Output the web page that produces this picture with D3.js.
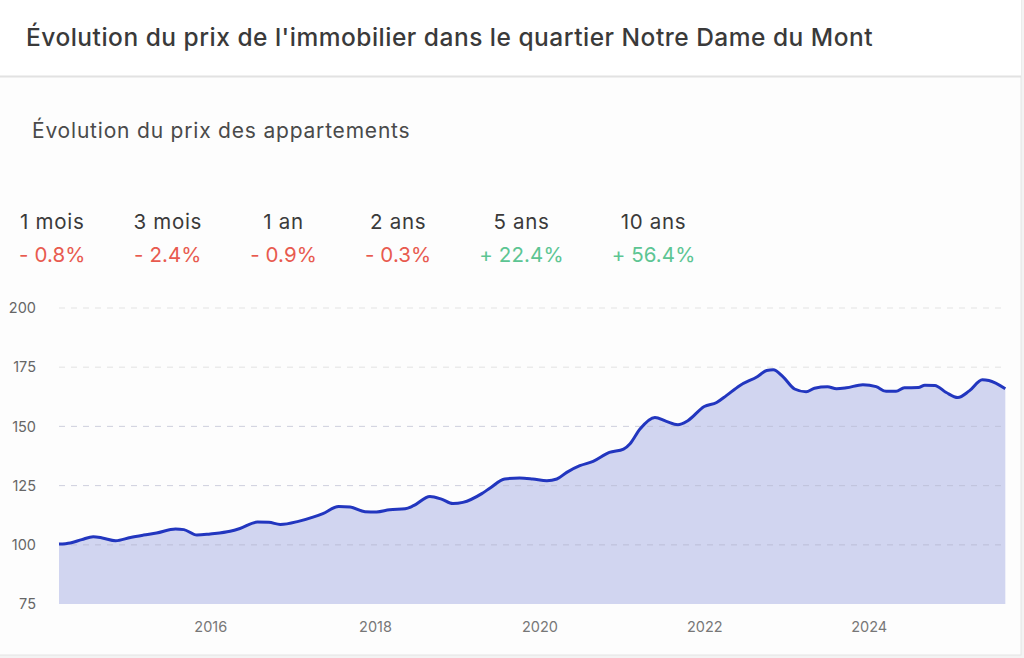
<!DOCTYPE html>
<html>
<head>
<meta charset="utf-8">
<script src="https://cdn.jsdelivr.net/npm/d3@7"></script>
<style>
  body { margin: 0; background: #f3f3f3; font-family: Inter, "Open Sans", sans-serif; }
  svg { display: block; }
</style>
</head>
<body>
<div id="chart"></div>
<script>
// header texts
const title = "Évolution du prix de l'immobilier dans le quartier Notre Dame du Mont";
const subtitle = "Évolution du prix des appartements";

// variation summary
const periods = ["1 mois", "3 mois", "1 an", "2 ans", "5 ans", "10 ans"];
const changes = [-0.8, -2.4, -0.9, -0.3, 22.4, 56.4];

// price index (base 100)
const dates = [
  "2014-03-01", "2014-04-20", "2014-06-10", "2014-07-31", "2014-09-09", "2014-11-07",
  "2015-01-12", "2015-03-11", "2015-05-08", "2015-07-31", "2015-09-06", "2015-11-03",
  "2016-01-01", "2016-03-29", "2016-05-12", "2016-07-28", "2016-09-17", "2016-11-07",
  "2017-01-26", "2017-04-01", "2017-05-15", "2017-07-24", "2017-09-13", "2017-11-18",
  "2018-01-08", "2018-03-07", "2018-05-15", "2018-06-21", "2018-09-02", "2018-10-23", "2018-12-13",
  "2019-01-26", "2019-04-20", "2019-05-27", "2019-07-31", "2019-10-05", "2019-12-02",
  "2020-02-03", "2020-03-18", "2020-05-01", "2020-06-28", "2020-08-26", "2020-11-06",
  "2021-01-08", "2021-02-06", "2021-03-22", "2021-05-27", "2021-07-17", "2021-09-06", "2021-10-20",
  "2022-01-01", "2022-02-25", "2022-04-09", "2022-06-07", "2022-08-26", "2022-10-05", "2022-11-03", "2022-12-17",
  "2023-02-06", "2023-03-29", "2023-05-05", "2023-07-02", "2023-08-11", "2023-09-24", "2023-12-06",
  "2024-02-03", "2024-03-18", "2024-05-01", "2024-06-07", "2024-08-08", "2024-09-06", "2024-10-20", "2024-12-10",
  "2025-01-30", "2025-03-22", "2025-05-19", "2025-06-17", "2025-08-29"
];
const values = [
  100.3, 100.8, 102.2, 103.4, 102.9, 101.7,
  103.1, 104.1, 105.0, 106.7, 106.4, 104.1,
  104.6, 105.7, 106.9, 109.6, 109.5, 108.6,
  109.9, 111.7, 113.2, 116.2, 116.0, 114.0,
  113.9, 114.8, 115.2, 116.5, 120.4, 119.3, 117.4,
  117.9, 121.6, 124.0, 127.8, 128.2, 127.8,
  127.1, 127.8, 130.6, 133.4, 135.2, 139.0,
  140.4, 142.7, 148.9, 153.8, 152.1, 150.7, 152.4,
  158.4, 160.1, 163.0, 167.2, 171.1, 173.6, 173.9, 170.9,
  165.8, 164.6, 166.1, 166.7, 165.9, 166.3, 167.6,
  166.8, 164.8, 164.8, 166.3, 166.4, 167.4, 167.3, 164.3,
  162.2, 165.0, 169.7, 169.4, 165.9
];

const yTicks = [75, 100, 125, 150, 175, 200];
const xTickYears = [2016, 2018, 2020, 2022, 2024];

const width = 1024, height = 658;
const margin = { top: 308, right: 18, bottom: 54, left: 59 };
const parseDate = d3.timeParse("%Y-%m-%d");
const data = dates.map((d, i) => ({ date: parseDate(d), value: values[i] }));

const svg = d3.select("#chart").append("svg")
    .attr("width", width)
    .attr("height", height);

// card
svg.append("rect")
    .attr("x", -1).attr("y", -1)
    .attr("width", 1022).attr("height", 656)
    .attr("fill", "#fdfdfd")
    .attr("stroke", "#e4e4e4");

svg.append("rect")
    .attr("x", 0).attr("y", 0)
    .attr("width", 1021).attr("height", 76)
    .attr("fill", "#ffffff");
svg.append("line")
    .attr("x1", 0).attr("x2", 1021)
    .attr("y1", 76.5).attr("y2", 76.5)
    .attr("stroke", "#e2e2e2")
    .attr("stroke-width", 2);

svg.append("text")
    .attr("x", 26).attr("y", 46)
    .attr("font-size", 24.5)
    .attr("font-weight", 500)
    .attr("letter-spacing", 0.5)
    .attr("fill", "#3a3a3a")
    .text(title);

svg.append("text")
    .attr("x", 32).attr("y", 137.5)
    .attr("font-size", 21)
    .attr("letter-spacing", 0.8)
    .attr("fill", "#4a4a4a")
    .text(subtitle);

// summary columns, laid out like a flex row
const stats = svg.append("g").attr("class", "stats");
let cursor = 19;
periods.forEach((p, i) => {
    const g = stats.append("g");
    const lab = g.append("text")
        .attr("y", 229)
        .attr("font-size", 20.5)
        .attr("letter-spacing", 0.7)
        .attr("fill", "#3a3a3a")
        .attr("text-anchor", "middle")
        .text(p);
    const v = changes[i];
    const val = g.append("text")
        .attr("y", 262)
        .attr("font-size", 20.5)
        .attr("letter-spacing", 0.1)
        .attr("fill", v < 0 ? "#e85a4f" : "#5cc593")
        .attr("text-anchor", "middle")
        .text((v < 0 ? "- " : "+ ") + d3.format(".1f")(Math.abs(v)) + "%");
    const w = Math.max(lab.node().getComputedTextLength(), val.node().getComputedTextLength());
    g.attr("transform", "translate(" + (cursor + w / 2) + ",0)");
    cursor += w + 48;
});

// scales
const x = d3.scaleTime()
    .domain([parseDate("2014-03-01"), parseDate("2025-09-01")])
    .range([margin.left, width - margin.right]);

const y = d3.scaleLinear()
    .domain([75, 200])
    .range([height - margin.bottom, margin.top]);

// grid
svg.append("g")
    .selectAll("line")
    .data(yTicks.filter(d => d > 75))
    .enter().append("line")
    .attr("x1", margin.left).attr("x2", width - margin.right)
    .attr("y1", d => y(d)).attr("y2", d => y(d))
    .attr("stroke", "#e3e3e3")
    .attr("stroke-dasharray", "6,6");

const area = d3.area()
    .x(d => x(d.date))
    .y0(y(75))
    .y1(d => y(d.value))
    .curve(d3.curveMonotoneX);

const line = d3.line()
    .x(d => x(d.date))
    .y(d => y(d.value))
    .curve(d3.curveMonotoneX);

svg.append("path")
    .datum(data)
    .attr("d", area)
    .attr("fill", "#2438c0")
    .attr("fill-opacity", 0.2);

// grid again on top of the area, faint
svg.append("g")
    .selectAll("line")
    .data(yTicks.filter(d => d > 75 && d < 175))
    .enter().append("line")
    .attr("x1", margin.left).attr("x2", width - margin.right)
    .attr("y1", d => y(d)).attr("y2", d => y(d))
    .attr("stroke", "#c4c7de")
    .attr("stroke-opacity", 0.6)
    .attr("stroke-dasharray", "6,6");

svg.append("path")
    .datum(data)
    .attr("d", line)
    .attr("fill", "none")
    .attr("stroke", "#2236bf")
    .attr("stroke-width", 3)
    .attr("stroke-linejoin", "round");

// axes
const yAxis = d3.axisLeft(y)
    .tickValues(yTicks)
    .tickSize(0)
    .tickPadding(23);

svg.append("g")
    .attr("transform", "translate(" + margin.left + ",0)")
    .call(yAxis)
    .call(g => g.select(".domain").remove())
    .selectAll("text")
    .attr("font-family", "Inter, sans-serif")
    .attr("font-size", 14.5)
    .attr("fill", "#666");

const xAxis = d3.axisBottom(x)
    .tickValues(xTickYears.map(yr => new Date(yr, 0, 1)))
    .tickFormat(d3.timeFormat("%Y"))
    .tickSize(0)
    .tickPadding(18);

svg.append("g")
    .attr("transform", "translate(0," + y(75) + ")")
    .call(xAxis)
    .call(g => g.select(".domain").remove())
    .selectAll("text")
    .attr("font-family", "Inter, sans-serif")
    .attr("font-size", 14.5)
    .attr("fill", "#777");
</script>
</body>
</html>
